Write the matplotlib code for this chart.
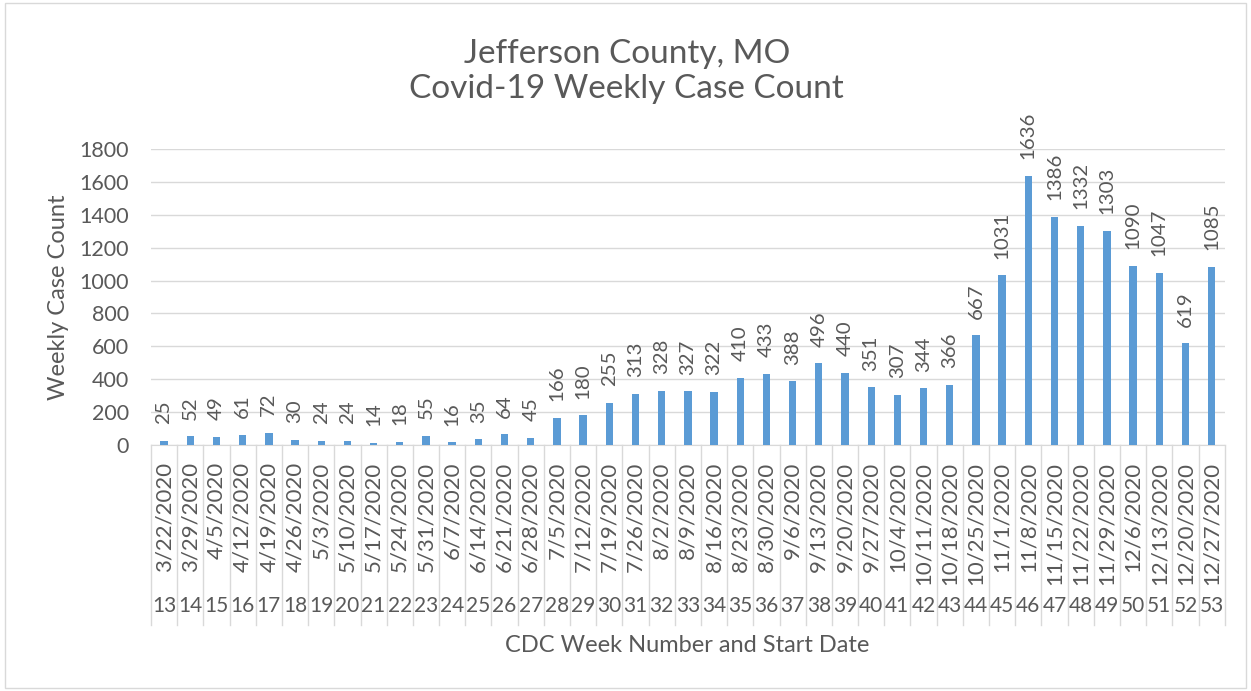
import matplotlib
matplotlib.use("Agg")
import matplotlib.pyplot as plt
from matplotlib.transforms import blended_transform_factory
from matplotlib.patches import Rectangle

weeks = list(range(13, 54))
dates = ["3/22/2020", "3/29/2020", "4/5/2020", "4/12/2020", "4/19/2020", "4/26/2020",
         "5/3/2020", "5/10/2020", "5/17/2020", "5/24/2020", "5/31/2020", "6/7/2020",
         "6/14/2020", "6/21/2020", "6/28/2020", "7/5/2020", "7/12/2020", "7/19/2020",
         "7/26/2020", "8/2/2020", "8/9/2020", "8/16/2020", "8/23/2020", "8/30/2020",
         "9/6/2020", "9/13/2020", "9/20/2020", "9/27/2020", "10/4/2020", "10/11/2020",
         "10/18/2020", "10/25/2020", "11/1/2020", "11/8/2020", "11/15/2020", "11/22/2020",
         "11/29/2020", "12/6/2020", "12/13/2020", "12/20/2020", "12/27/2020"]
cases = [25, 52, 49, 61, 72, 30, 24, 24, 14, 18, 55, 16, 35, 64, 45, 166, 180, 255,
         313, 328, 327, 322, 410, 433, 388, 496, 440, 351, 307, 344, 366, 667, 1031,
         1636, 1386, 1332, 1303, 1090, 1047, 619, 1085]
yticks = [0, 200, 400, 600, 800, 1000, 1200, 1400, 1600, 1800]

plt.rcParams['font.family'] = ['Lato', 'DejaVu Sans']
txt = "#595959"

fig = plt.figure(figsize=(12.51, 6.91), dpi=100)
fig.patches.append(Rectangle((0.004, 0.004), 0.992, 0.992, transform=fig.transFigure,
                             fill=False, edgecolor="#d9d9d9", linewidth=1))
ax = fig.add_axes([0.1207, 0.356, 0.8583, 0.4284])

x = list(range(len(cases)))
ax.bar(x, cases, width=0.28, color="#5b9bd5", zorder=3)
ax.set_xlim(-0.5, len(cases) - 0.5)
ax.set_ylim(0, 1800)
ax.set_yticks(yticks)
ax.tick_params(axis='y', length=0, labelsize=15.5, labelcolor=txt, pad=16)
ax.set_xticks([])
ax.grid(axis='y', color="#d9d9d9", linewidth=1, zorder=0)
for s in ["top", "right", "left"]:
    ax.spines[s].set_visible(False)
ax.spines["bottom"].set_color("#d9d9d9")

for xi, v in zip(x, cases):
    ax.annotate(str(v), (xi, v), xytext=(0, 12), textcoords="offset points",
                rotation=90, ha="center", va="bottom", fontsize=14.7, color=txt)

tr = blended_transform_factory(ax.transData, ax.transAxes)
for i in range(len(cases) + 1):
    ax.plot([i - 0.5, i - 0.5], [0, -0.608], transform=tr, color="#d9d9d9",
            linewidth=1, clip_on=False)
for xi, d, w in zip(x, dates, weeks):
    ax.text(xi, -0.057, d, transform=tr, rotation=90, ha="center", va="top",
            fontsize=16, color=txt)
    ax.text(xi, -0.544, str(w), transform=tr, ha="center", va="center",
            fontsize=15, color=txt)

ax.text(0.499, -0.676, "CDC Week Number and Start Date", transform=ax.transAxes,
        ha="center", va="center", fontsize=17, color=txt)
ax.set_ylabel("Weekly Case Count", fontsize=17, color=txt)
ax.yaxis.set_label_coords(-0.0765, 0.5)

fig.text(0.501, 0.896, "Jefferson County, MO\nCovid-19 Weekly Case Count",
         ha="center", va="center", fontsize=24, color=txt, linespacing=1.2)

fig.savefig("out.png", dpi=100, facecolor="white")
